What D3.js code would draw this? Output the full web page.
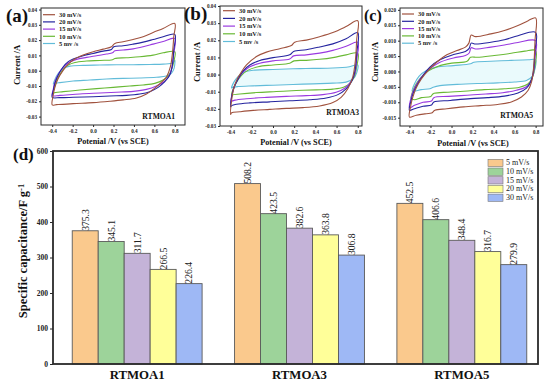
<!DOCTYPE html>
<html><head><meta charset="utf-8">
<script src="https://cdn.jsdelivr.net/npm/d3@7"></script>
<style>
body{margin:0;background:#fff}
svg{display:block}
text{font-family:"Liberation Serif","Times New Roman",serif}
</style>
</head><body>
<svg id="c" width="550" height="383"></svg>
<script>
// ---------- DATA ----------
const cvScanRates = ["30 mV/s","20 mV/s","15 mV/s","10 mV/s","5 mv /s"];
const cvXTicks = [-0.4,-0.2,0.0,0.2,0.4,0.6,0.8];
const cvYTicksAB = [-0.03,-0.02,-0.01,0.00,0.01,0.02,0.03,0.04];
const cvYTicksC = [-0.015,-0.010,-0.005,0.000,0.005,0.010,0.015,0.020];
const cvSamples = ["RTMOA1","RTMOA3","RTMOA5"];

// Panel (a) RTMOA1 : [potential V, current A]
const cvA30 = [[-0.4,-0.0224],[-0.39,-0.0159],[-0.374,-0.0109],[-0.341,-0.005],[-0.292,0.0004],[-0.243,0.0043],[-0.195,0.007],[-0.097,0.0102],[0.001,0.0124],[0.099,0.0141],[0.18,0.0157],[0.213,0.0178],[0.294,0.0189],[0.392,0.0204],[0.49,0.0222],[0.588,0.025],[0.686,0.0276],[0.8,0.0309],
  [0.79,0.0222],[0.777,0.0113],[0.757,0.0026],[0.72,-0.004],[0.686,-0.0065],[0.62,-0.0105],[0.523,-0.0152],[0.425,-0.0178],[0.294,-0.0191],[0.164,-0.02],[0.001,-0.0209],[-0.195,-0.0215],[-0.358,-0.0222]];
const cvA20 = [[-0.4,-0.0174],[-0.39,-0.013],[-0.374,-0.0083],[-0.341,-0.0028],[-0.292,0.0026],[-0.243,0.0059],[-0.195,0.0076],[-0.097,0.0098],[0.001,0.0113],[0.099,0.0128],[0.18,0.0139],[0.203,0.0157],[0.294,0.0163],[0.392,0.0174],[0.49,0.0187],[0.588,0.0204],[0.686,0.0222],[0.8,0.0237],
  [0.79,0.0135],[0.774,0.0026],[0.751,-0.0028],[0.702,-0.0072],[0.637,-0.0109],[0.555,-0.0137],[0.457,-0.0152],[0.327,-0.0161],[0.164,-0.0165],[0.001,-0.017],[-0.195,-0.0174],[-0.325,-0.0176]];
const cvA15 = [[-0.4,-0.0163],[-0.39,-0.0122],[-0.374,-0.0072],[-0.332,-0.0013],[-0.276,0.0033],[-0.227,0.0057],[-0.162,0.0074],[-0.064,0.0087],[0.034,0.0098],[0.131,0.0109],[0.19,0.0117],[0.213,0.013],[0.294,0.0135],[0.392,0.0143],[0.49,0.0157],[0.588,0.0174],[0.686,0.0191],[0.8,0.0211],
  [0.79,0.0113],[0.77,0.0015],[0.744,-0.0035],[0.695,-0.0072],[0.62,-0.01],[0.523,-0.0122],[0.392,-0.0135],[0.229,-0.0141],[0.066,-0.0146],[-0.129,-0.0152],[-0.325,-0.0161]];
const cvA10 = [[-0.39,-0.0148],[-0.374,-0.01],[-0.341,-0.0043],[-0.292,0.0009],[-0.243,0.0037],[-0.178,0.0054],[-0.064,0.0063],[0.066,0.0067],[0.19,0.0072],[0.213,0.008],[0.327,0.0085],[0.457,0.0091],[0.588,0.0102],[0.686,0.0117],[0.8,0.0124],
  [0.79,0.0059],[0.767,0.0004],[0.734,-0.0035],[0.686,-0.0061],[0.604,-0.0083],[0.49,-0.0093],[0.36,-0.01],[0.197,-0.0109],[0.034,-0.0117],[-0.129,-0.0126],[-0.292,-0.0137],[-0.385,-0.0145]];
const cvA5 = [[-0.39,-0.0087],[-0.374,-0.0057],[-0.341,-0.0017],[-0.292,0.0015],[-0.227,0.003],[-0.097,0.0035],[0.066,0.0037],[0.229,0.0039],[0.392,0.0039],[0.555,0.0041],[0.686,0.0043],[0.783,0.0052],[0.8,0.007],
  [0.793,0.0015],[0.767,-0.0017],[0.718,-0.0035],[0.62,-0.0043],[0.457,-0.0048],[0.294,-0.005],[0.131,-0.0054],[-0.032,-0.0061],[-0.195,-0.0067],[-0.325,-0.0078],[-0.385,-0.0085]];

// Panel (b) RTMOA3
const cvB30 = [[-0.4,-0.0233],[-0.391,-0.0153],[-0.375,-0.0093],[-0.344,-0.0034],[-0.297,0.0016],[-0.25,0.0056],[-0.156,0.0105],[-0.062,0.0131],[0.064,0.0151],[0.173,0.0169],[0.205,0.0189],[0.314,0.0201],[0.44,0.0221],[0.565,0.0245],[0.69,0.028],[0.8,0.0314],
  [0.79,0.0205],[0.778,0.0085],[0.753,-0.0014],[0.706,-0.0083],[0.643,-0.0133],[0.565,-0.0163],[0.44,-0.0183],[0.283,-0.0193],[0.126,-0.0197],[-0.03,-0.0203],[-0.187,-0.0209],[-0.312,-0.0217],[-0.39,-0.0223]];
const cvB20 = [[-0.4,-0.0189],[-0.391,-0.0133],[-0.369,-0.0078],[-0.328,-0.0024],[-0.281,0.0022],[-0.218,0.0056],[-0.124,0.0082],[0.001,0.0099],[0.158,0.0115],[0.195,0.0135],[0.314,0.0145],[0.44,0.0161],[0.565,0.0179],[0.69,0.0209],[0.8,0.0245],
  [0.79,0.0125],[0.775,0.0026],[0.747,-0.0034],[0.69,-0.0083],[0.612,-0.0117],[0.502,-0.0137],[0.346,-0.0147],[0.158,-0.0153],[-0.03,-0.0159],[-0.218,-0.0165],[-0.344,-0.0173],[-0.39,-0.0181]];
const cvB15 = [[-0.4,-0.0163],[-0.387,-0.0117],[-0.366,-0.007],[-0.328,-0.0024],[-0.281,0.0016],[-0.218,0.0046],[-0.124,0.0066],[0.001,0.008],[0.158,0.0091],[0.195,0.0109],[0.314,0.0115],[0.44,0.0125],[0.565,0.0141],[0.69,0.0165],[0.8,0.0189],
  [0.79,0.0085],[0.772,0.0006],[0.737,-0.004],[0.681,-0.0078],[0.596,-0.0103],[0.471,-0.0117],[0.314,-0.0123],[0.126,-0.0127],[-0.062,-0.0133],[-0.25,-0.0141],[-0.359,-0.0149],[-0.395,-0.0157]];
const cvB10 = [[-0.391,-0.0123],[-0.375,-0.0083],[-0.344,-0.0044],[-0.297,-0.0004],[-0.234,0.0026],[-0.14,0.0046],[0.001,0.0056],[0.158,0.0066],[0.198,0.008],[0.314,0.0083],[0.44,0.0089],[0.565,0.0099],[0.69,0.0115],[0.8,0.0125],
  [0.79,0.0046],[0.769,-0.001],[0.728,-0.005],[0.665,-0.0074],[0.565,-0.0085],[0.408,-0.0089],[0.22,-0.0093],[0.032,-0.0099],[-0.156,-0.0105],[-0.312,-0.0113],[-0.385,-0.0119]];
const cvB5 = [[-0.391,-0.0078],[-0.369,-0.0044],[-0.328,-0.001],[-0.265,0.0016],[-0.171,0.0026],[0.001,0.003],[0.189,0.0034],[0.377,0.0036],[0.565,0.0038],[0.722,0.0046],[0.8,0.0056],
  [0.79,0.001],[0.759,-0.0024],[0.69,-0.0044],[0.565,-0.005],[0.377,-0.0054],[0.189,-0.0058],[0.001,-0.0062],[-0.187,-0.0066],[-0.328,-0.007],[-0.385,-0.0075]];

// Panel (c) RTMOA5
const cvC30 = [[-0.4,-0.0148],[-0.39,-0.0115],[-0.368,-0.0083],[-0.335,-0.0053],[-0.287,-0.0024],[-0.223,0.0003],[-0.142,0.003],[-0.045,0.0054],[0.052,0.0068],[0.132,0.0079],[0.165,0.0092],[0.187,0.0118],[0.229,0.0113],[0.374,0.0122],[0.503,0.0133],[0.632,0.0149],[0.729,0.0165],[0.8,0.0174],
  [0.794,0.01],[0.781,0.0014],[0.761,-0.0034],[0.729,-0.0061],[0.665,-0.0083],[0.568,-0.0099],[0.439,-0.0107],[0.277,-0.0111],[0.116,-0.0115],[-0.045,-0.0121],[-0.158,-0.0126],[-0.19,-0.0135],[-0.239,-0.0137],[-0.335,-0.0142]];
const cvC20 = [[-0.4,-0.0126],[-0.384,-0.0094],[-0.361,-0.0067],[-0.319,-0.0038],[-0.271,-0.0013],[-0.206,0.0014],[-0.11,0.0038],[0.019,0.0055],[0.132,0.0065],[0.168,0.0075],[0.187,0.0092],[0.229,0.0089],[0.374,0.0095],[0.503,0.0103],[0.632,0.0116],[0.8,0.0127],
  [0.794,0.0068],[0.778,-0.0002],[0.752,-0.0034],[0.713,-0.0054],[0.632,-0.007],[0.503,-0.008],[0.342,-0.0085],[0.181,-0.0088],[-0.013,-0.0094],[-0.168,-0.0099],[-0.19,-0.0109],[-0.271,-0.0113],[-0.352,-0.0121]];
const cvC15 = [[-0.4,-0.0118],[-0.387,-0.0088],[-0.361,-0.0061],[-0.319,-0.0034],[-0.271,-0.0013],[-0.206,0.0009],[-0.11,0.003],[0.019,0.0044],[0.132,0.0052],[0.168,0.006],[0.187,0.0077],[0.229,0.0073],[0.374,0.0079],[0.503,0.0086],[0.632,0.0094],[0.8,0.01],
  [0.794,0.0046],[0.778,-0.0008],[0.752,-0.0034],[0.703,-0.0051],[0.616,-0.0061],[0.487,-0.0069],[0.326,-0.0073],[0.148,-0.0077],[-0.029,-0.0081],[-0.168,-0.0085],[-0.19,-0.0096],[-0.271,-0.01],[-0.352,-0.011]];
const cvC10 = [[-0.384,-0.0088],[-0.368,-0.0064],[-0.335,-0.004],[-0.287,-0.0018],[-0.223,0.0001],[-0.126,0.0017],[0.003,0.0027],[0.148,0.0033],[0.181,0.0046],[0.245,0.0046],[0.406,0.0052],[0.568,0.0059],[0.697,0.0066],[0.8,0.0068],
  [0.794,0.0019],[0.771,-0.0018],[0.729,-0.004],[0.648,-0.0051],[0.503,-0.0056],[0.31,-0.0059],[0.116,-0.0064],[-0.077,-0.0068],[-0.174,-0.0072],[-0.197,-0.0081],[-0.287,-0.0085],[-0.352,-0.0092]];
const cvC5 = [[-0.374,-0.0064],[-0.352,-0.004],[-0.31,-0.0016],[-0.239,0.0003],[-0.142,0.0014],[0.019,0.0019],[0.181,0.0025],[0.213,0.003],[0.374,0.0033],[0.568,0.0036],[0.729,0.0038],[0.8,0.0038],
  [0.794,0.0009],[0.768,-0.0016],[0.713,-0.0029],[0.6,-0.0034],[0.439,-0.0037],[0.245,-0.0039],[0.052,-0.0042],[-0.11,-0.0046],[-0.174,-0.0051],[-0.206,-0.0056],[-0.287,-0.0059],[-0.352,-0.0064]];

// Bar chart (d)
const barCategories = ["RTMOA1","RTMOA3","RTMOA5"];
const barSeries = ["5 mV/s","10 mV/s","15 mV/s","20 mV/s","30 mV/s"];
const rtmoa1Values = [375.3,345.1,311.7,266.5,226.4];
const rtmoa3Values = [508.2,423.5,382.6,363.8,306.8];
const rtmoa5Values = [452.5,406.6,348.4,316.7,279.9];
const barYTicks = [0,100,200,300,400,500,600];

// ---------- STYLE ----------
const cvColors = ["#a0523e","#25259f","#9a3ae0","#69b935","#62bcd9"];
const barColors = ["#fac98d","#9dd39a","#c4b3d8","#ffff99","#9eb8f5"];
const axisColor = "#2a2a2a";

const svg = d3.select("#c");

// ---------- CV PANELS ----------
const panels = [
  {letter:"(a)", lx:6, ly:22, lsize:19, sample:cvSamples[0], curves:[cvA30,cvA20,cvA15,cvA10,cvA5],
   x0:41, x1:185, y0:8, y1:125, xd:[-0.51,0.9], yd:[-0.0355,0.041], yt:cvYTicksAB, yf:v=>v.toFixed(2),
   legX:43, legY:14.7, legStep:7.2, ylabX:17, ylabY:65, xlabX:113, xlabY:144, sampX:175, sampY:119, fill:false},
  {letter:"(b)", lx:184, ly:20, lsize:19, sample:cvSamples[1], curves:[cvB30,cvB20,cvB15,cvB10,cvB5],
   x0:220, x1:362, y0:6, y1:126, xd:[-0.5,0.84], yd:[-0.03,0.04], yt:cvYTicksAB, yf:v=>v.toFixed(2),
   legX:223, legY:10.7, legStep:7.7, ylabX:197, ylabY:62, xlabX:296, xlabY:144.5, sampX:359, sampY:115, fill:true},
  {letter:"(c)", lx:364, ly:21, lsize:16, sample:cvSamples[2], curves:[cvC30,cvC20,cvC15,cvC10,cvC5],
   x0:400, x1:543, y0:8, y1:126, xd:[-0.49,0.87], yd:[-0.0177,0.0206], yt:cvYTicksC, yf:v=>v.toFixed(3),
   legX:402, legY:14, legStep:7.3, ylabX:375, ylabY:62, xlabX:473, xlabY:146, sampX:533, sampY:118, fill:true}
];

panels.forEach(p => {
  const g = svg.append("g");
  const x = d3.scaleLinear().domain(p.xd).range([p.x0, p.x1]);
  const y = d3.scaleLinear().domain(p.yd).range([p.y1, p.y0]);
  const line = d3.line().x(d=>x(d[0])).y(d=>y(d[1])).curve(d3.curveCatmullRomClosed.alpha(0.5));

  if (p.fill) {
    g.append("path").attr("d", line(p.curves[4])).attr("fill","#eafafc").attr("stroke","none");
  }
  p.curves.slice().reverse().forEach((c,i) => {
    const idx = 4 - i;
    g.append("path").attr("d", line(c)).attr("fill","none")
      .attr("stroke", cvColors[idx]).attr("stroke-width",1.1);
  });

  g.append("rect").attr("x",p.x0).attr("y",p.y0).attr("width",p.x1-p.x0).attr("height",p.y1-p.y0)
    .attr("fill","none").attr("stroke",axisColor).attr("stroke-width",1);

  const xa = g.append("g").attr("transform",`translate(0,${p.y1})`)
    .call(d3.axisBottom(x).tickValues(cvXTicks).tickSize(2).tickPadding(2).tickFormat(v=>v.toFixed(1)));
  const ya = g.append("g").attr("transform",`translate(${p.x0},0)`)
    .call(d3.axisLeft(y).tickValues(p.yt).tickSize(2).tickPadding(2).tickFormat(p.yf));
  [xa,ya].forEach(a => {
    a.select(".domain").remove();
    a.selectAll("line").attr("stroke",axisColor);
    a.selectAll("text").attr("font-family","Liberation Serif").attr("font-size",5.2)
      .attr("font-weight","bold").attr("fill","#222");
  });

  cvScanRates.forEach((s,i) => {
    const yy = p.legY + i*p.legStep;
    g.append("line").attr("x1",p.legX).attr("x2",p.legX+12).attr("y1",yy).attr("y2",yy)
      .attr("stroke",cvColors[i]).attr("stroke-width",1.2);
    g.append("text").attr("x",p.legX+16).attr("y",yy+2.2).text(s)
      .attr("font-size",6.4).attr("font-weight","bold").attr("fill","#222");
  });

  g.append("text").attr("x",p.lx).attr("y",p.ly).text(p.letter)
    .attr("font-size",p.lsize).attr("font-weight","bold").attr("fill","#111");
  g.append("text").attr("transform",`translate(${p.ylabX},${p.ylabY}) rotate(-90)`)
    .attr("text-anchor","middle").attr("dy","0.35em").text("Current /A")
    .attr("font-size",8.5).attr("font-weight","bold").attr("fill","#111");
  g.append("text").attr("x",p.xlabX).attr("y",p.xlabY).attr("text-anchor","middle")
    .text("Potenial /V (vs SCE)").attr("font-size",8.2).attr("font-weight","bold").attr("fill","#111");
  g.append("text").attr("x",p.sampX).attr("y",p.sampY).attr("text-anchor","end")
    .text(p.sample).attr("font-size",7.6).attr("font-weight","bold").attr("fill","#111");
});

// ---------- BAR CHART ----------
const bx0 = 53, bx1 = 538, by0 = 151, by1 = 364;
const bg = svg.append("g");
bg.append("rect").attr("x",bx0).attr("y",by0).attr("width",bx1-bx0).attr("height",by1-by0).attr("fill","#fff");

const xb = d3.scaleBand().domain(barCategories).range([56,543]).paddingInner(0.2).paddingOuter(0.1);
const xs = d3.scaleBand().domain(barSeries).range([0, xb.bandwidth()]);
const yb = d3.scaleLinear().domain([0,600]).range([by1, by0]);
const groups = [rtmoa1Values, rtmoa3Values, rtmoa5Values];

barCategories.forEach((cat,ci) => {
  const gg = bg.append("g").attr("transform",`translate(${xb(cat)},0)`);
  groups[ci].forEach((v,si) => {
    gg.append("rect").attr("x",xs(barSeries[si])).attr("y",yb(v))
      .attr("width",xs.bandwidth()).attr("height",yb(0)-yb(v))
      .attr("fill",barColors[si]).attr("stroke","#5a5a5a").attr("stroke-width",0.9);
    const cx = xs(barSeries[si]) + xs.bandwidth()/2;
    gg.append("text").attr("transform",`translate(${cx},${yb(v)}) rotate(-90)`)
      .attr("dy","0.35em").attr("x",0).text(v.toFixed(1))
      .attr("font-size",9.6).attr("fill","#222");
  });
});

bg.append("rect").attr("x",bx0).attr("y",by0).attr("width",bx1-bx0).attr("height",by1-by0)
  .attr("fill","none").attr("stroke",axisColor).attr("stroke-width",1.8);

const yAx = bg.append("g").attr("transform",`translate(${bx0},0)`)
  .call(d3.axisLeft(yb).tickValues(barYTicks).tickSize(3).tickPadding(2).tickFormat(d3.format("d")));
yAx.select(".domain").remove();
yAx.selectAll("line").attr("stroke",axisColor);
yAx.selectAll("text").attr("font-family","Liberation Serif").attr("font-size",7.5)
  .attr("font-weight","bold").attr("fill","#222");

const xAx = bg.append("g").attr("transform",`translate(0,${by1})`)
  .call(d3.axisBottom(xb).tickSize(0).tickPadding(6));
xAx.select(".domain").remove();
xAx.selectAll("text").attr("font-family","Liberation Serif").attr("font-size",12.8)
  .attr("font-weight","bold").attr("fill","#111");

const yl = bg.append("text").attr("transform","translate(23,251) rotate(-90)")
  .attr("text-anchor","middle").attr("dy","0.35em")
  .attr("font-size",12.5).attr("font-weight","bold").attr("fill","#111");
yl.append("tspan").text("Specific capacitance/F g");
yl.append("tspan").attr("dy","-0.45em").attr("font-size",8.5).text("-1");

barSeries.forEach((s,i) => {
  const yy = 159.3 + i*8.7;
  bg.append("rect").attr("x",488).attr("y",yy).attr("width",15).attr("height",7.3)
    .attr("fill",barColors[i]).attr("stroke","#777").attr("stroke-width",0.6);
  bg.append("text").attr("x",506).attr("y",yy+6).text(s).attr("font-size",8).attr("fill","#222");
});

bg.append("text").attr("x",13).attr("y",160).text("(d)")
  .attr("font-size",17).attr("font-weight","bold").attr("fill","#111");
</script>
</body></html>
